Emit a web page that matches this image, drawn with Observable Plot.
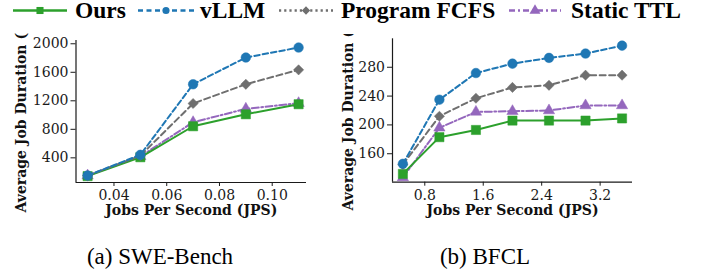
<!DOCTYPE html>
<html>
<head>
<meta charset="utf-8">
<script src="https://cdn.jsdelivr.net/npm/d3@7"></script>
<script src="https://cdn.jsdelivr.net/npm/@observablehq/plot@0.6"></script>
<style>
  body { margin: 0; background: #fff; }
  #root { position: relative; width: 708px; height: 273px; overflow: hidden; background: #fff; }
  #root > svg { position: absolute; }
</style>
</head>
<body>
<div id="root"></div>
<script>
// ---------- data ----------
const seriesNames = ["Ours", "vLLM", "Program FCFS", "Static TTL"];
const seriesColors = ["#2ca02c", "#1f77b4", "#6f6f6f", "#9467bd"];

const sweX = [0.03, 0.05, 0.07, 0.09, 0.11];
const sweOurs = [143, 408, 843, 1011, 1152];
const sweVllm = [152, 442, 1432, 1807, 1947];
const sweFcfs = [150, 430, 1162, 1432, 1634];
const sweTtl = [150, 420, 899, 1087, 1166];
const sweXTicks = [0.04, 0.06, 0.08, 0.10];
const sweYTicks = [400, 800, 1200, 1600, 2000];

const bfclX = [0.5, 1.0, 1.5, 2.0, 2.5, 3.0, 3.5];
const bfclOurs = [132, 183, 193, 206, 206, 206, 209];
const bfclVllm = [146, 235, 272, 285, 293, 299, 310];
const bfclFcfs = [145, 212, 237, 252, 255, 269, 269];
const bfclTtl = [127, 196, 218, 219, 220, 227, 227];
const bfclXTicks = [0.8, 1.6, 2.4, 3.2];
const bfclYTicks = [160, 200, 240, 280];

const xLabel = "Jobs Per Second (JPS)";
const yLabel = "Average Job Duration (s)";
const captions = ["(a) SWE-Bench", "(b) BFCL"];

// ---------- styles ----------
const FONT = "DejaVu Serif";
const style = {
  "Ours": {color: seriesColors[0], dash: null, symbol: "square", r: 5.2, legDash: null},
  "vLLM": {color: seriesColors[1], dash: "5.5,3", symbol: "circle", r: 4.8, legDash: "5,3.5"},
  "Program FCFS": {color: seriesColors[2], dash: "6,3.5", symbol: "diamond2", r: 4.6, legDash: "2.2,3"},
  "Static TTL": {color: seriesColors[3], dash: "7,2.5,1.8,2.5", symbol: "triangle", r: 4.2, legDash: "6,3,2,3"}
};
const drawOrder = ["Static TTL", "Ours", "Program FCFS", "vLLM"];

function chart(o) {
  const values = {"Ours": o.ours, "vLLM": o.vllm, "Program FCFS": o.fcfs, "Static TTL": o.ttl};
  const marks = [
    Plot.ruleX([o.xDomain[0]], {stroke: "#1a1a1a", strokeWidth: 1.2}),
    Plot.ruleY([o.yDomain[0]], {stroke: "#1a1a1a", strokeWidth: 1.2}),
    Plot.axisY({ticks: o.yTicks, tickSize: 5, tickPadding: 2.5, tickFormat: d => String(d), label: null,
      fontSize: 14, fontFamily: FONT, stroke: "#1a1a1a", fill: "#1a1a1a"}),
    Plot.axisX({ticks: o.xTicks, tickSize: 4, tickPadding: 4, tickFormat: o.xFmt, label: null,
      fontSize: 14, fontFamily: FONT, stroke: "#1a1a1a", fill: "#1a1a1a"})
  ];
  for (const name of drawOrder) {
    const s = style[name];
    const d = o.xs.map((x, i) => ({x, y: values[name][i]}));
    marks.push(Plot.line(d, {x: "x", y: "y", stroke: s.color, strokeWidth: 2, strokeDasharray: s.dash}));
    marks.push(Plot.dot(d, {x: "x", y: "y", fill: s.color, stroke: s.color, strokeWidth: 0.5, symbol: s.symbol, r: s.r}));
  }
  marks.push(Plot.text([yLabel], {frameAnchor: "left", rotate: -90, dx: o.labelDx, dy: o.labelDy, textAnchor: "middle", lineAnchor: "middle",
    fontWeight: "bold", fontSize: 14, fontFamily: FONT, fill: "#111"}));
  marks.push(Plot.text([xLabel], {frameAnchor: "bottom", dy: 22.5, lineAnchor: "top",
    fontWeight: "bold", fontSize: 14, fontFamily: FONT, fill: "#111"}));
  const svg = Plot.plot({
    width: o.width, height: o.height,
    marginLeft: o.mL, marginRight: o.mR, marginTop: o.mT, marginBottom: o.mB,
    x: {domain: o.xDomain},
    y: {domain: o.yDomain},
    style: {fontFamily: FONT, fontSize: "14px", background: "transparent", overflow: "hidden", color: "#1a1a1a"},
    marks
  });
  svg.style.left = o.left + "px";
  svg.style.top = o.top + "px";
  return svg;
}

const root = document.getElementById("root");

// legend + captions overlay
const NS = "http://www.w3.org/2000/svg";
const over = document.createElementNS(NS, "svg");
over.setAttribute("width", 708); over.setAttribute("height", 273);
over.style.left = "0px"; over.style.top = "0px";
root.appendChild(over);
function el(tag, attrs, text) {
  const e = document.createElementNS(NS, tag);
  for (const k in attrs) e.setAttribute(k, attrs[k]);
  if (text != null) e.textContent = text;
  over.appendChild(e);
  return e;
}
const legItems = [
  {name: "Ours", x0: 13, x1: 67, tx: 75},
  {name: "vLLM", x0: 138, x1: 194, tx: 200},
  {name: "Program FCFS", x0: 279, x1: 333, tx: 341},
  {name: "Static TTL", x0: 509, x1: 561, tx: 571}
];
const ly = 10.5;
for (const it of legItems) {
  const s = style[it.name];
  const a = {x1: it.x0, x2: it.x1, y1: ly, y2: ly, stroke: s.color, "stroke-width": 2.6};
  if (s.legDash) a["stroke-dasharray"] = s.legDash;
  el("line", a);
  const cx = (it.x0 + it.x1) / 2;
  const sym = {square: d3.symbolSquare, circle: d3.symbolCircle, diamond2: d3.symbolDiamond2, triangle: d3.symbolTriangle}[s.symbol];
  const size = {square: 50, circle: 40, diamond2: 44, triangle: 52}[s.symbol];
  el("path", {d: d3.symbol(sym, size)(), transform: `translate(${cx},${ly})`, fill: s.color});
  el("text", {x: it.tx, y: 17.5, "font-family": "Liberation Serif", "font-weight": "bold", "font-size": 23.5, fill: "#000"}, it.name);
}
el("text", {x: 160, y: 264, "text-anchor": "middle", "font-family": "Liberation Serif", "font-size": 23, fill: "#000"}, captions[0]);
el("text", {x: 485, y: 264, "text-anchor": "middle", "font-family": "Liberation Serif", "font-size": 23, fill: "#000"}, captions[1]);

root.appendChild(chart({
  xs: sweX, ours: sweOurs, vllm: sweVllm, fcfs: sweFcfs, ttl: sweTtl,
  xDomain: [0.0256, 0.113], yDomain: [54, 2046],
  xTicks: sweXTicks, yTicks: sweYTicks, xFmt: d => d.toFixed(2),
  width: 320, height: 195, mL: 75.5, mR: 14, mT: 7, mB: 46,
  left: 0, top: 33, labelDx: -54, labelDy: 4
}));
root.appendChild(chart({
  xs: bfclX, ours: bfclOurs, vllm: bfclVllm, fcfs: bfclFcfs, ttl: bfclTtl,
  xDomain: [0.358, 3.643], yDomain: [120.5, 319.5],
  xTicks: bfclXTicks, yTicks: bfclYTicks, xFmt: d => d.toFixed(1),
  width: 300, height: 196, mL: 52, mR: 8, mT: 4.3, mB: 48.3,
  left: 340, top: 34, labelDx: -44, labelDy: 3
}));
</script>
</body>
</html>
